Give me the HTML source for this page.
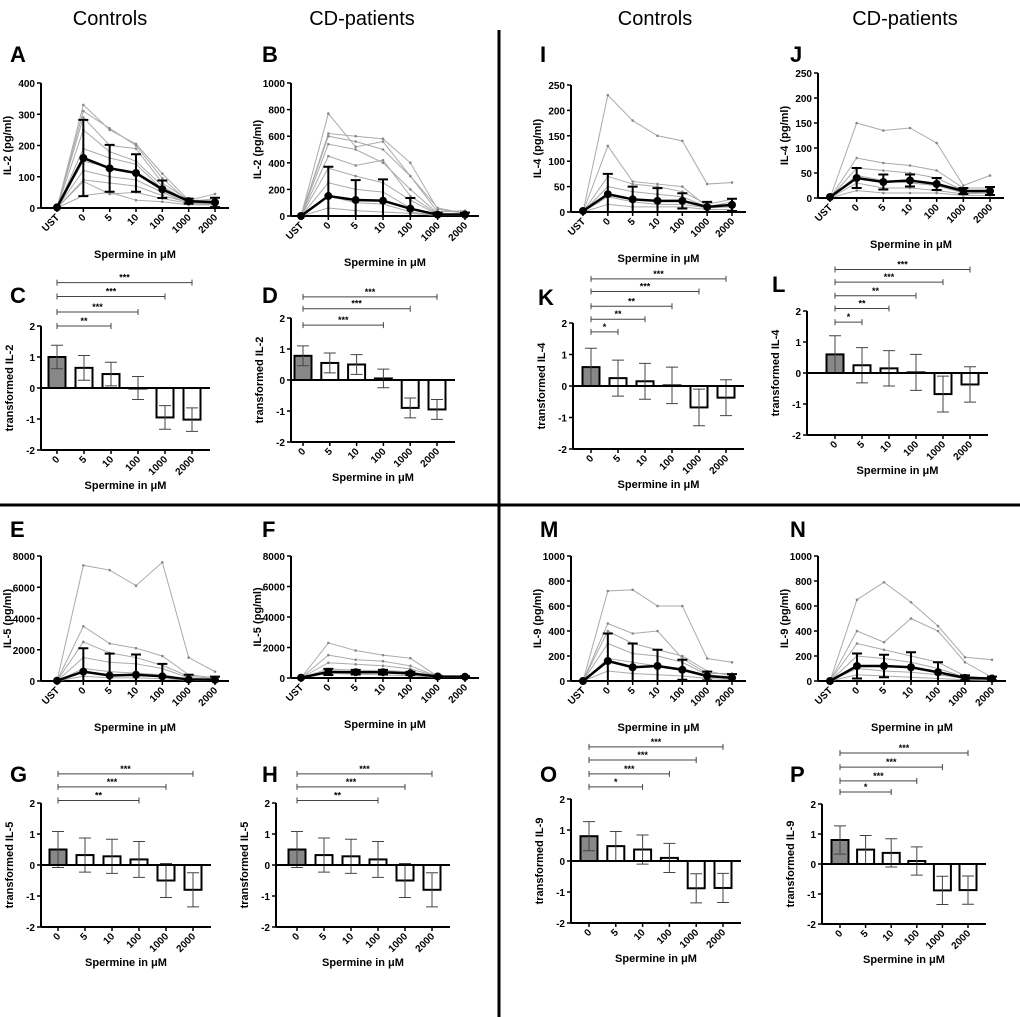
<!DOCTYPE html>
<html><head><meta charset="utf-8">
<style>
body{margin:0;background:#fff;}
svg{display:block;font-family:"Liberation Sans",Arial,sans-serif;}
</style></head>
<body>
<svg id="fig" width="1020" height="1017" viewBox="0 0 1020 1017">
<rect width="1020" height="1017" fill="#fff"/>
<g font-size="20" text-anchor="middle" fill="#000">
<text x="110" y="25">Controls</text>
<text x="362" y="25">CD-patients</text>
<text x="655" y="25">Controls</text>
<text x="905" y="25">CD-patients</text>
</g>
<line x1="499" y1="30" x2="499" y2="1017" stroke="#000" stroke-width="3"/>
<line x1="0" y1="505" x2="1020" y2="505" stroke="#000" stroke-width="3"/>
</svg>
<script>
const cats = ["UST","0","5","10","100","1000","2000"];
const barCats = ["0","5","10","100","1000","2000"];
// line panels
const A_mean=[2,160,127,112,60,22,18], A_err=[0,122,75,60,28,8,15];
const A_lines=[[0,330,250,205,110,25,45],[0,310,255,200,95,20,30],[0,290,200,190,80,25,20],[0,250,180,150,70,20,15],[0,190,160,140,60,25,25],[0,150,130,110,55,20,20],[0,120,100,90,50,15,15],[0,90,80,70,40,18,15],[0,85,45,50,30,15,10],[0,40,50,25,20,10,10]];
const A_ticks=[0,100,200,300,400];
const B_mean=[0,150,120,115,55,10,10], B_err=[0,220,150,160,80,15,15];
const B_lines=[[0,770,520,560,300,60,20],[0,620,600,580,400,50,20],[0,600,560,500,300,30,40],[0,540,500,400,200,20,20],[0,450,380,420,150,15,10],[0,360,300,250,120,10,10],[0,250,200,180,60,10,10],[0,150,100,90,30,5,5],[0,60,40,30,20,5,5]];
const B_ticks=[0,200,400,600,800,1000];
const I_mean=[2,35,25,22,22,10,14], I_err=[0,40,25,25,15,10,12];
const I_lines=[[0,230,180,150,140,55,58],[0,130,60,55,50,10,20],[0,70,55,50,40,15,25],[0,50,40,35,30,10,15],[0,30,20,15,15,8,10],[0,15,10,10,10,5,5]];
const I_ticks=[0,50,100,150,200,250];
const J_mean=[2,40,32,35,28,14,14], J_err=[0,20,15,12,12,6,8];
const J_lines=[[0,150,135,140,110,25,45],[0,80,70,65,55,20,20],[0,60,55,50,40,15,15],[0,45,35,30,25,10,12],[0,30,20,20,15,8,10],[0,15,10,10,10,5,5]];
const J_ticks=[0,50,100,150,200,250];
const E_mean=[20,600,350,400,300,100,80], E_err=[0,1500,1400,1300,800,300,200];
const E_lines=[[0,7400,7100,6100,7600,1500,600],[0,3500,2400,2100,1600,400,200],[0,2500,1800,1500,1000,300,150],[0,1500,1200,1100,800,200,100],[0,800,600,500,400,100,80],[0,300,200,200,150,50,30]];
const E_ticks=[0,2000,4000,6000,8000];
const F_mean=[20,400,380,380,300,100,80], F_err=[0,200,150,150,100,50,40];
const F_lines=[[0,2300,1800,1500,1300,100,100],[0,1500,1200,1100,800,100,80],[0,1000,900,800,600,100,50],[0,600,500,500,400,80,40],[0,300,250,200,150,50,30]];
const F_ticks=[0,2000,4000,6000,8000];
const M_mean=[0,160,110,120,90,40,25], M_err=[0,220,190,130,80,35,30];
const M_lines=[[0,720,730,600,600,180,150],[0,460,380,400,180,60,60],[0,400,300,250,200,80,40],[0,300,220,200,150,50,30],[0,180,150,120,100,40,20],[0,80,60,50,40,20,10]];
const M_ticks=[0,200,400,600,800,1000];
const N_mean=[0,120,120,110,70,25,20], N_err=[0,100,90,120,80,20,15];
const N_lines=[[0,650,790,630,440,190,170],[0,400,310,500,400,150,30],[0,300,250,200,150,40,20],[0,200,180,150,100,30,20],[0,100,80,70,50,20,10],[0,50,40,30,20,10,5]];
const N_ticks=[0,200,400,600,800,1000];
// bar panels
const C_mean=[1,0.65,0.45,0,-0.95,-1.02], C_err=[0.38,0.4,0.38,0.37,0.38,0.38];
const C_sigEnd=[2,3,4,5], C_sigY=[2,2.45,2.95,3.4], C_sigLbl=["**","***","***","***"];
const D_mean=[0.78,0.55,0.5,0.05,-0.9,-0.95], D_err=[0.32,0.32,0.32,0.3,0.32,0.32];
const D_sigEnd=[3,4,5], D_sigY=[1.77,2.3,2.68], D_sigLbl=["***","***","***"];
const K_mean=[0.6,0.25,0.15,0.02,-0.68,-0.37], K_err=[0.6,0.57,0.57,0.58,0.58,0.57];
const K_sigEnd=[1,2,3,4,5], K_sigY=[1.72,2.12,2.53,3.0,3.4], K_sigLbl=["*","**","**","***","***"];
const L_mean=[0.6,0.25,0.15,0.02,-0.68,-0.37], L_err=[0.6,0.57,0.57,0.58,0.58,0.57];
const L_sigEnd=[1,2,3,4,5], L_sigY=[1.64,2.08,2.49,2.93,3.34], L_sigLbl=["*","**","**","***","***"];
const G_mean=[0.5,0.32,0.28,0.18,-0.5,-0.8], G_err=[0.58,0.55,0.55,0.58,0.55,0.55];
const G_sigEnd=[3,4,5], G_sigY=[2.08,2.52,2.94], G_sigLbl=["**","***","***"];
const H_mean=[0.5,0.32,0.28,0.18,-0.5,-0.8], H_err=[0.58,0.55,0.55,0.58,0.55,0.55];
const H_sigEnd=[3,4,5], H_sigY=[2.08,2.52,2.94], H_sigLbl=["**","***","***"];
const O_mean=[0.8,0.48,0.37,0.1,-0.88,-0.87], O_err=[0.47,0.47,0.47,0.47,0.47,0.47];
const O_sigEnd=[2,3,4,5], O_sigY=[2.39,2.81,3.26,3.68], O_sigLbl=["*","***","***","***"];
const P_mean=[0.8,0.48,0.37,0.1,-0.88,-0.87], P_err=[0.47,0.47,0.47,0.47,0.47,0.47];
const P_sigEnd=[2,3,4,5], P_sigY=[2.4,2.77,3.23,3.7], P_sigLbl=["*","***","***","***"];

const NS="http://www.w3.org/2000/svg";
const svg=document.getElementById('fig');
function mk(tag,attrs,parent,txt){const e=document.createElementNS(NS,tag);for(const k in attrs)e.setAttribute(k,attrs[k]);if(txt!==undefined)e.textContent=txt;(parent||svg).appendChild(e);return e;}

function panelLetter(l,x,y){
  const t=mk('text',{x:x,y:y,'font-size':22,'font-weight':'bold'},svg,l);
  
  
}
function xTitle(g,cx,y){
  const t=mk('text',{x:cx,y:y,'font-size':11,'font-weight':'bold','text-anchor':'middle'},g);
  t.textContent='Spermine in μM';
  
  
}
function yTitle(g,x,cy,txt){
  const t=mk('text',{x:x,y:cy,'font-size':11,'font-weight':'bold','text-anchor':'middle',transform:`rotate(-90 ${x} ${cy})`},g,txt);
  
  
}
function catLabel(g,x,y,txt){
  const t=mk('text',{x:x,y:y,'font-size':10,'font-weight':'bold','text-anchor':'end',transform:`rotate(-45 ${x} ${y})`},g,txt);
  
  
}

function linePanel(id,cfg,mean,err,lines,ticks,ylabel){
  const g=mk('g',{});
  
  
  const ymax=ticks[ticks.length-1];
  const ys=v=>cfg.y0-(v/ymax)*(cfg.y0-cfg.yt);
  const step=(cfg.x6-cfg.xu)/6;
  const xs=i=>cfg.xu+i*step;
  const xend=cfg.x6+14;
  const ax=mk('line',{x1:cfg.ax,y1:cfg.yt,x2:cfg.ax,y2:cfg.y0,stroke:'#000','stroke-width':2},g);
  
  const bx=mk('line',{x1:cfg.ax,y1:cfg.y0,x2:xend,y2:cfg.y0,stroke:'#000','stroke-width':2},g);
  
  ticks.forEach(t=>{
    mk('line',{x1:cfg.ax-4,y1:ys(t),x2:cfg.ax,y2:ys(t),stroke:'#000','stroke-width':1.5},g);
    const tl=mk('text',{x:cfg.ax-6,y:ys(t)+4,'font-size':10,'font-weight':'bold','text-anchor':'end'},g,t);
    
  });
  cats.forEach((c,i)=>{
    mk('line',{x1:xs(i),y1:cfg.y0,x2:xs(i),y2:cfg.y0+4,stroke:'#000','stroke-width':1.5},g);
    catLabel(g,xs(i)+3,cfg.y0+10,c);
  });
  lines.forEach((ln,k)=>{
    const p=mk('polyline',{points:ln.map((v,i)=>xs(i)+','+ys(v)).join(' '),fill:'none',stroke:'#aaa','stroke-width':1},g);
    
    
    ln.forEach((v,i)=>{mk('circle',{cx:xs(i),cy:ys(v),r:1.3,fill:'#888'},g);});
  });
  mean.forEach((v,i)=>{
    if(err[i]>0){
      const lo=Math.max(0,v-err[i]),hi=v+err[i];
      const e=mk('path',{d:`M${xs(i)},${ys(lo)}V${ys(hi)}M${xs(i)-5},${ys(hi)}h10M${xs(i)-5},${ys(lo)}h10`,stroke:'#000','stroke-width':2,fill:'none'},g);
      
    }
  });
  const mp=mk('polyline',{points:mean.map((v,i)=>xs(i)+','+ys(v)).join(' '),fill:'none',stroke:'#000','stroke-width':2.5},g);
  
  mean.forEach((v,i)=>{
    const c=mk('circle',{cx:xs(i),cy:ys(v),r:4,fill:'#000'},g);
    
  });
  yTitle(g,cfg.ax-30,(cfg.y0+cfg.yt)/2,ylabel);
  xTitle(g,(cfg.ax+xend)/2,cfg.y0+50);
  panelLetter(id,cfg.lx,cfg.ly);
}

function barPanel(id,cfg,mean,err,sigEnd,sigY,sigLbl,ylabel){
  const g=mk('g',{});
  
  
  const unit=(cfg.y0-cfg.y2)/2;
  const ys=v=>cfg.y0-v*unit;
  const step=(cfg.x5-cfg.xb)/5;
  const xs=i=>cfg.xb+i*step;
  const xend=cfg.x5+18;
  const yl=mk('line',{x1:cfg.ax,y1:ys(2),x2:cfg.ax,y2:ys(-2),stroke:'#000','stroke-width':2},g);
  
  const bl=mk('line',{x1:cfg.ax,y1:ys(-2),x2:xend,y2:ys(-2),stroke:'#000','stroke-width':2},g);
  
  [-2,-1,0,1,2].forEach(t=>{
    mk('line',{x1:cfg.ax-4,y1:ys(t),x2:cfg.ax,y2:ys(t),stroke:'#000','stroke-width':1.5},g);
    const tl=mk('text',{x:cfg.ax-6,y:ys(t)+4,'font-size':10,'font-weight':'bold','text-anchor':'end'},g,t);
    
  });
  barCats.forEach((c,i)=>{
    mk('line',{x1:xs(i),y1:ys(-2),x2:xs(i),y2:ys(-2)+4,stroke:'#000','stroke-width':1.5},g);
    catLabel(g,xs(i)+3,ys(-2)+10,c);
  });
  mean.forEach((v,i)=>{
    const top=Math.min(ys(0),ys(v)),h=Math.abs(ys(v)-ys(0));
    const r=mk('rect',{x:xs(i)-8.5,y:top,width:17,height:Math.max(h,0.5),fill:i===0?'#888':'#fff',stroke:'#000','stroke-width':2},g);
    
    const hi=ys(v+err[i]),lo=ys(v-err[i]);
    const e=mk('path',{d:`M${xs(i)},${hi}V${lo}M${xs(i)-6},${hi}h12M${xs(i)-6},${lo}h12`,stroke:'#444','stroke-width':1,fill:'none'},g);
    
  });
  const z=mk('line',{x1:cfg.ax,y1:ys(0),x2:xend,y2:ys(0),stroke:'#000','stroke-width':2},g);
  
  sigEnd.forEach((e,k)=>{
    const y=ys(sigY[k]),x1=xs(0),x2=xs(e);
    const b=mk('path',{d:`M${x1},${y-3}v6M${x1},${y}H${x2}M${x2},${y-3}v6`,stroke:'#444','stroke-width':1,fill:'none'},g);
    
    const t=mk('text',{x:(x1+x2)/2,y:y-2,'font-size':9,'font-weight':'bold','text-anchor':'middle'},g,sigLbl[k]);
    
  });
  yTitle(g,cfg.ax-28,cfg.y0,ylabel);
  xTitle(g,(cfg.ax+xend)/2,ys(-2)+39);
  panelLetter(id,cfg.lx,cfg.ly);
}

linePanel('A',{ax:41,yt:83,y0:208,xu:57,x6:215,lx:10,ly:62},A_mean,A_err,A_lines,A_ticks,'IL-2 (pg/ml)');
linePanel('B',{ax:291,yt:83,y0:216,xu:301,x6:465,lx:262,ly:62},B_mean,B_err,B_lines,B_ticks,'IL-2 (pg/ml)');
linePanel('I',{ax:571,yt:85,y0:212,xu:583,x6:732,lx:540,ly:62},I_mean,I_err,I_lines,I_ticks,'IL-4 (pg/ml)');
linePanel('J',{ax:818,yt:73,y0:198,xu:830,x6:990,lx:790,ly:62},J_mean,J_err,J_lines,J_ticks,'IL-4 (pg/ml)');
linePanel('E',{ax:41,yt:556,y0:681,xu:57,x6:215,lx:10,ly:537},E_mean,E_err,E_lines,E_ticks,'IL-5 (pg/ml)');
linePanel('F',{ax:291,yt:556,y0:678,xu:301,x6:465,lx:262,ly:537},F_mean,F_err,F_lines,F_ticks,'IL-5 (pg/ml)');
linePanel('M',{ax:571,yt:556,y0:681,xu:583,x6:732,lx:540,ly:537},M_mean,M_err,M_lines,M_ticks,'IL-9 (pg/ml)');
linePanel('N',{ax:818,yt:556,y0:681,xu:830,x6:992,lx:790,ly:537},N_mean,N_err,N_lines,N_ticks,'IL-9 (pg/ml)');

barPanel('C',{ax:41,y2:326,y0:388,xb:57,x5:192,lx:10,ly:303},C_mean,C_err,C_sigEnd,C_sigY,C_sigLbl,'transformed IL-2');
barPanel('D',{ax:291,y2:318,y0:380,xb:303,x5:437,lx:262,ly:303},D_mean,D_err,D_sigEnd,D_sigY,D_sigLbl,'transformed IL-2');
barPanel('K',{ax:573,y2:323,y0:386,xb:591,x5:726,lx:538,ly:305},K_mean,K_err,K_sigEnd,K_sigY,K_sigLbl,'transformed IL-4');
barPanel('L',{ax:807,y2:311,y0:373,xb:835,x5:970,lx:772,ly:292},L_mean,L_err,L_sigEnd,L_sigY,L_sigLbl,'transformed IL-4');
barPanel('G',{ax:41,y2:803,y0:865,xb:58,x5:193,lx:10,ly:782},G_mean,G_err,G_sigEnd,G_sigY,G_sigLbl,'transformed IL-5');
barPanel('H',{ax:276,y2:803,y0:865,xb:297,x5:432,lx:262,ly:782},H_mean,H_err,H_sigEnd,H_sigY,H_sigLbl,'transformed IL-5');
barPanel('O',{ax:571,y2:799,y0:861,xb:589,x5:723,lx:540,ly:782},O_mean,O_err,O_sigEnd,O_sigY,O_sigLbl,'transformed IL-9');
barPanel('P',{ax:822,y2:804,y0:864,xb:840,x5:968,lx:790,ly:782},P_mean,P_err,P_sigEnd,P_sigY,P_sigLbl,'transformed IL-9');
</script>
</body></html>
